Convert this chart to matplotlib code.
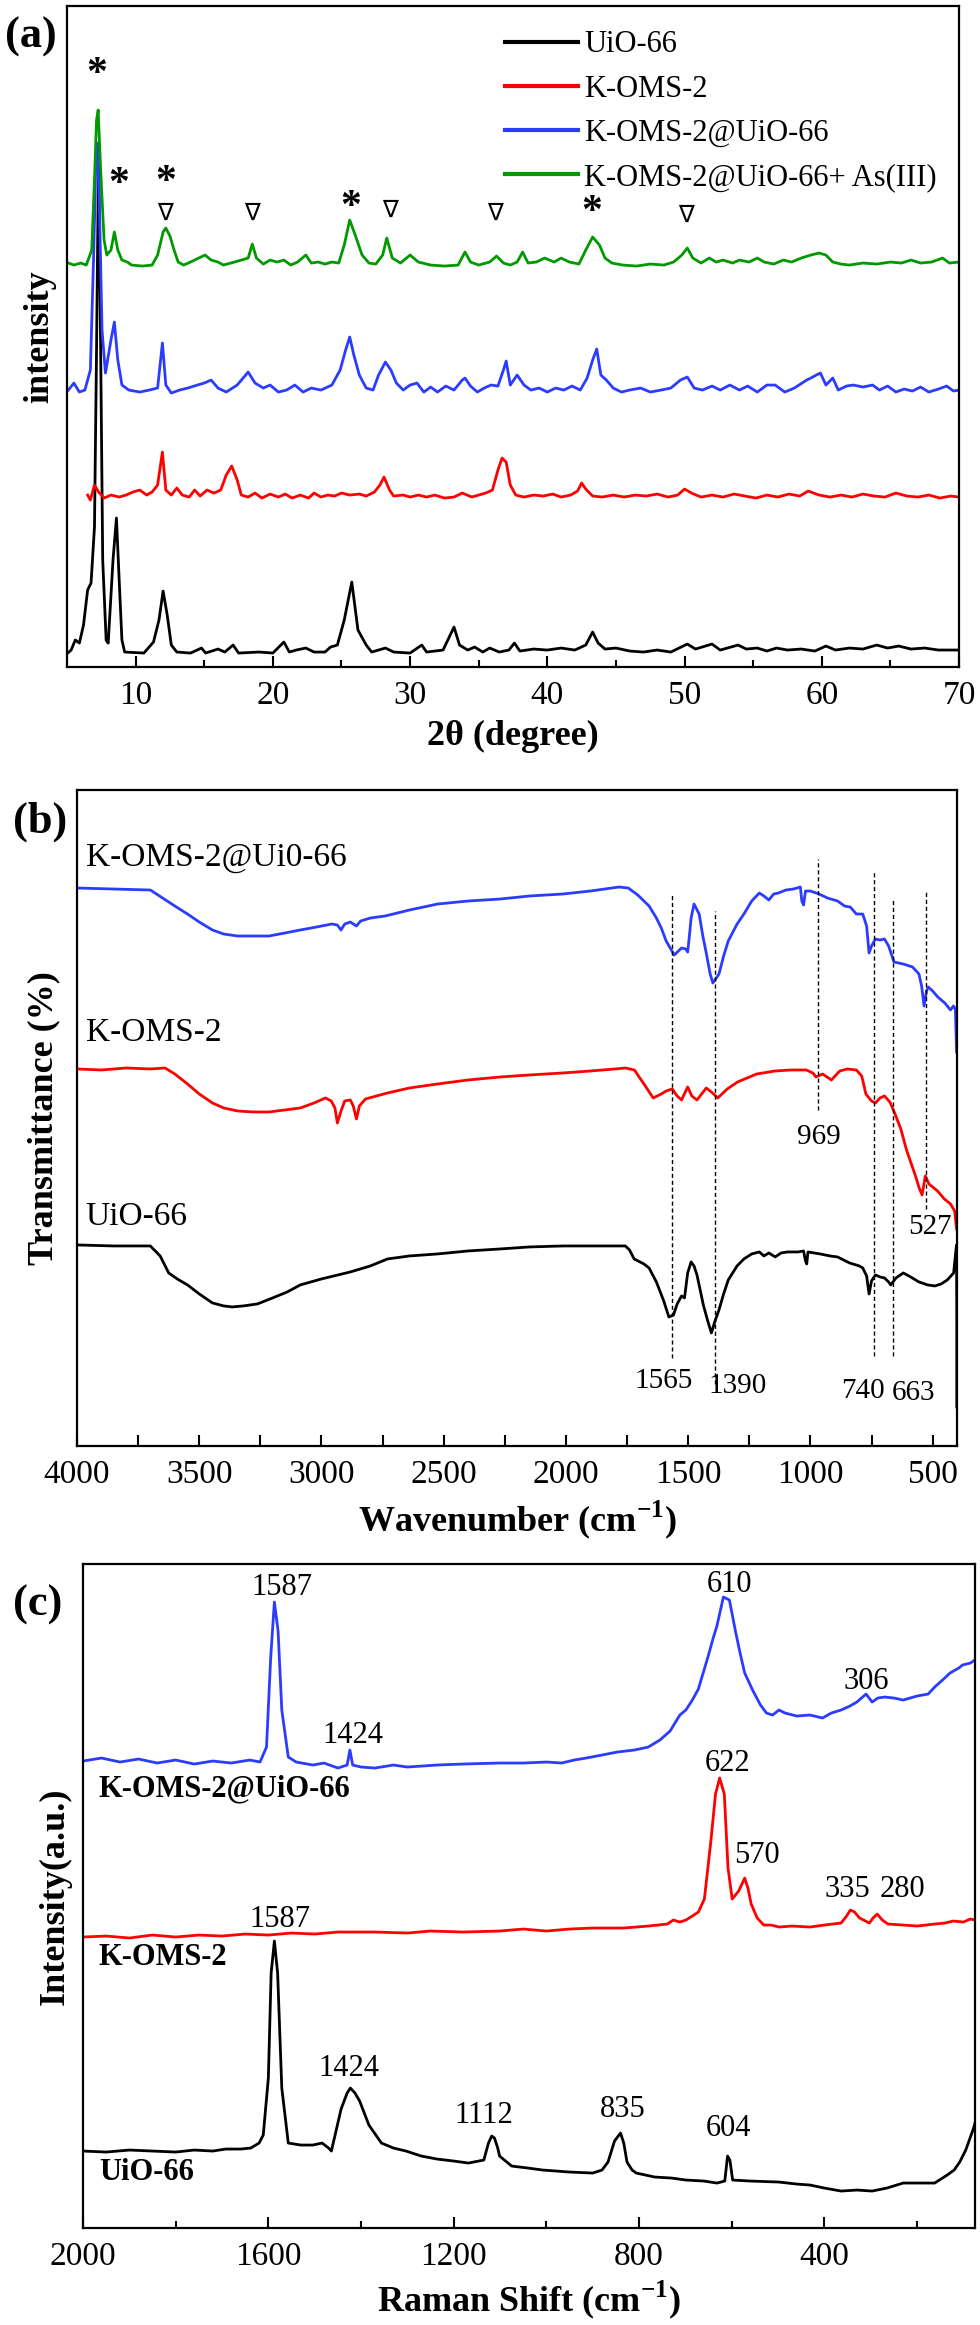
import matplotlib
matplotlib.use("Agg")
import matplotlib.pyplot as plt
from matplotlib.ticker import MultipleLocator

plt.rcParams['font.family'] = ['Liberation Serif', 'DejaVu Sans']
plt.rcParams['mathtext.fontset'] = 'custom'
plt.rcParams['mathtext.rm'] = 'Liberation Serif'
plt.rcParams['mathtext.bf'] = 'Liberation Serif:bold'

# ---------------- (a) XRD ----------------
xrd_green_x = [5.1, 5.5, 6.0, 6.4, 6.8, 7.0, 7.15, 7.27, 7.45, 7.7, 7.9, 8.2, 8.45, 8.7, 9.0, 9.4, 9.7,
               10.5, 11.2, 11.6, 12.0, 12.2, 12.5, 12.8, 13.1, 13.5, 14.0, 14.6, 15.06, 15.5, 16.0, 16.4,
               17.2, 17.7, 18.2, 18.5, 18.8, 19.3, 19.8, 20.3, 20.8, 21.3, 21.8, 22.4, 22.8, 23.3, 23.8,
               24.3, 24.8, 25.2, 25.6, 26.0, 26.5, 27.0, 27.5, 28.0, 28.3, 28.7, 29.3, 30.0, 30.6, 31.5,
               32.5, 33.5, 34.0, 34.4, 35.0, 35.8, 36.3, 36.8, 37.3, 37.8, 38.2, 38.6, 39.2, 39.8, 40.5,
               41.0, 41.6, 42.3, 42.8, 43.3, 43.8, 44.2, 44.7, 45.5, 46.5, 47.5, 48.5, 49.2, 49.8, 50.2,
               50.6, 51.2, 51.8, 52.3, 52.8, 53.5, 54.0, 54.7, 55.3, 55.8, 56.5, 57.2, 57.8, 58.5, 59.2,
               59.8, 60.3, 60.8, 61.4, 62.0, 63.0, 64.0, 65.0, 65.8, 66.5, 67.2, 68.0, 68.8, 69.3, 70.0]
xrd_green_y = [404, 402, 404, 402, 417, 487, 547, 557, 497, 427, 412, 417, 435, 417, 407, 405, 402,
               401, 402, 412, 435, 439, 431, 417, 405, 402, 405, 409, 412, 407, 405, 402,
               405, 407, 409, 423, 409, 403, 407, 405, 407, 402, 405, 412, 404, 405, 403,
               405, 404, 422, 447, 432, 412, 404, 403, 412, 429, 409, 404, 412, 405, 402,
               401, 402, 415, 405, 402, 405, 411, 404, 402, 405, 415, 404, 405, 409, 405,
               409, 405, 403, 417, 430, 422, 409, 404, 402, 401, 403, 402, 405, 412, 419,
               409, 404, 409, 405, 407, 404, 407, 405, 409, 405, 403, 407, 405, 409, 412,
               414, 412, 405, 403, 402, 404, 403, 405, 404, 407, 404, 405, 409, 404, 405]

xrd_blue_x = [5.1, 5.5, 5.9, 6.3, 6.7, 6.95, 7.1, 7.2, 7.35, 7.55, 7.8, 8.2, 8.45, 8.7, 9.0, 9.5, 10.3,
              11.0, 11.6, 11.95, 12.2, 12.6, 13.2, 13.8, 14.5, 15.0, 15.5, 16.0, 16.6, 17.4, 18.2, 18.7,
              19.3, 19.8, 20.4, 21.0, 21.6, 22.2, 22.8, 23.5, 24.3, 24.9, 25.3, 25.6, 25.9, 26.3, 26.8,
              27.3, 27.7, 28.2, 28.6, 29.0, 29.5, 30.0, 30.5, 31.0, 31.5, 32.0, 32.6, 33.2, 33.8, 34.0,
              34.4, 34.9, 35.4, 35.9, 36.4, 36.8, 37.0, 37.3, 37.8, 38.3, 38.8, 39.4, 40.0, 40.6, 41.2,
              41.8, 42.4, 42.9, 43.3, 43.6, 43.9, 44.3, 44.8, 45.4, 46.0, 46.8, 47.5, 48.3, 49.0, 49.7,
              50.2, 50.7, 51.3, 52.0, 52.6, 53.3, 54.0, 54.6, 55.3, 56.0, 56.6, 57.3, 58.0, 58.9, 59.2,
              59.6, 59.9, 60.3, 60.8, 61.2, 61.8, 62.3, 63.0, 63.7, 64.2, 64.8, 65.4, 66.0, 66.6, 67.2,
              67.8, 68.5, 69.1, 69.6, 70.0]
xrd_blue_y = [277, 284, 275, 277, 297, 417, 507, 524, 467, 337, 294, 327, 345, 307, 282, 277, 275,
              277, 279, 324, 282, 274, 277, 279, 282, 284, 287, 279, 275, 282, 295, 284,
              279, 282, 275, 277, 282, 275, 279, 277, 282, 297, 317, 330, 312, 292, 279,
              277, 292, 305, 297, 284, 277, 282, 284, 275, 280, 275, 281, 277, 287, 289,
              281, 275, 279, 282, 281, 297, 306, 282, 292, 282, 277, 279, 275, 279, 277,
              281, 277, 289, 307, 318, 292, 287, 279, 275, 277, 279, 275, 277, 279, 287,
              290, 279, 277, 281, 277, 282, 277, 281, 275, 282, 282, 275, 279, 287, 289,
              292, 294, 282, 289, 277, 281, 282, 280, 282, 277, 281, 275, 278, 276, 280,
              275, 278, 281, 276, 277]

xrd_red_x = [6.5, 6.7, 7.0, 7.3, 7.7, 8.2, 8.8, 9.3, 9.8, 10.3, 10.8, 11.2, 11.6, 11.95, 12.2, 12.6,
             13.0, 13.4, 13.9, 14.3, 14.7, 15.2, 15.7, 16.2, 16.6, 17.0, 17.4, 17.7, 18.2, 18.7, 19.2,
             19.8, 20.4, 20.9, 21.4, 22.0, 22.6, 23.0, 23.5, 24.0, 24.5, 25.0, 25.6, 26.3, 26.8, 27.4,
             27.8, 28.1, 28.5, 28.8, 29.5, 30.0, 30.6, 31.2, 31.8, 32.5, 33.2, 33.8, 34.5, 35.0, 35.5,
             36.0, 36.4, 36.7, 37.0, 37.3, 37.7, 38.3, 39.0, 39.7, 40.4, 41.0, 41.7, 42.2, 42.5, 42.8,
             43.3, 44.0, 44.8, 45.6, 46.4, 47.2, 48.0, 48.8, 49.5, 50.0, 50.5, 51.2, 52.0, 52.8, 53.6,
             54.4, 55.2, 56.0, 56.8, 57.6, 58.4, 59.0, 59.8, 60.6, 61.4, 62.2, 63.0, 63.8, 64.6, 65.4,
             66.2, 67.0, 67.8, 68.6, 69.4, 70.0]
xrd_red_y = [172, 167, 182, 175, 169, 172, 170, 172, 175, 177, 172, 175, 182, 215, 177, 172,
             179, 172, 170, 177, 171, 177, 174, 177, 192, 201, 187, 172, 170, 174, 169,
             173, 170, 173, 169, 172, 169, 174, 170, 172, 171, 174, 172, 173, 171, 175,
             182, 190, 177, 171, 172, 170, 172, 170, 172, 169, 170, 174, 170, 172, 174,
             177, 197, 209, 205, 182, 172, 170, 172, 171, 173, 170, 172, 176, 184, 178,
             171, 170, 172, 170, 172, 171, 173, 170, 172, 178, 174, 170, 172, 170, 173,
             171, 169, 172, 170, 173, 171, 176, 172, 170, 172, 170, 173, 171, 170, 174,
             171, 170, 172, 169, 171, 170]

xrd_black_x = [5.05, 5.3, 5.6, 5.9, 6.2, 6.5, 6.75, 7.0, 7.15, 7.3, 7.45, 7.6, 7.85, 8.0, 8.35, 8.6,
               8.8, 9.0, 9.2, 10.6, 11.3, 11.7, 12.0, 12.3, 12.6, 13.0, 14.0, 14.8, 15.1, 16.0, 16.5,
               17.1, 17.5, 19.0, 20.0, 20.8, 21.2, 21.7, 22.4, 23.0, 23.8, 24.2, 24.7, 25.2, 25.75,
               26.2, 26.8, 27.2, 28.2, 28.8, 30.0, 30.85, 31.2, 32.4, 33.2, 33.6, 34.2, 34.7, 35.3,
               35.8, 36.5, 37.2, 37.6, 38.0, 39.0, 40.0, 41.0, 42.0, 42.8, 43.3, 43.7, 44.2, 45.0,
               46.0, 47.0, 48.0, 49.0, 50.2, 50.8, 52.0, 52.6, 53.9, 54.5, 55.3, 56.0, 56.7, 57.5,
               58.5, 59.5, 60.3, 61.0, 62.0, 63.0, 64.0, 64.8, 65.6, 66.5, 67.5, 68.5, 69.9]
xrd_black_y = [14, 17, 27, 24, 42, 77, 84, 140, 317, 517, 317, 107, 27, 24, 107, 149,
               87, 27, 15, 14, 25, 47, 76, 52, 22, 15, 14, 19, 14, 18, 15,
               22, 14, 15, 14, 25, 15, 17, 19, 15, 15, 20, 22, 47, 85,
               37, 22, 15, 19, 15, 14, 22, 15, 17, 40, 22, 17, 20, 15,
               19, 15, 17, 24, 16, 18, 17, 19, 17, 22, 35, 24, 18, 19,
               16, 15, 17, 15, 23, 18, 23, 17, 22, 18, 19, 16, 19, 17,
               18, 16, 21, 17, 19, 18, 22, 19, 21, 18, 19, 17, 17]

xrd_labels = ["UiO-66", "K-OMS-2", "K-OMS-2@UiO-66", "K-OMS-2@UiO-66+ As(III)"]
star_pos = [(7.15, 592), (8.75, 482), (12.2, 484), (25.7, 459), (43.2, 454)]
tri_pos = [(12.1, 454), (18.5, 454), (28.5, 457), (36.2, 454), (50.1, 452)]

# ---------------- (b) FTIR ----------------
ir_blue = [(4000, 558), (3850, 557), (3700, 556), (3650, 548), (3600, 540), (3548, 532), (3500, 524),
           (3446, 516), (3400, 512), (3343, 510), (3280, 510), (3215, 510), (3150, 513), (3087, 516),
           (3020, 519), (2958, 522), (2935, 521), (2920, 516), (2905, 522), (2882, 524), (2857, 520),
           (2840, 525), (2800, 528), (2740, 530), (2640, 536), (2525, 542), (2400, 545), (2269, 547),
           (2150, 550), (2013, 552), (1900, 555), (1783, 559), (1745, 558), (1706, 551), (1660, 540),
           (1630, 528), (1610, 518), (1590, 505), (1557, 491), (1527, 498), (1510, 497), (1502, 494),
           (1495, 510), (1488, 528), (1476, 542), (1455, 532), (1440, 510), (1426, 493), (1410, 472),
           (1399, 463), (1385, 468), (1374, 472), (1355, 490), (1336, 505), (1300, 522), (1272, 532),
           (1240, 545), (1209, 553), (1190, 550), (1170, 546), (1150, 552), (1131, 553), (1100, 556),
           (1070, 557), (1041, 559), (1035, 545), (1028, 541), (1020, 555), (1000, 555), (965, 552),
           (930, 548), (889, 545), (860, 540), (837, 539), (812, 532), (786, 532), (770, 520),
           (760, 493), (750, 500), (734, 507), (715, 506), (697, 507), (680, 500), (658, 484),
           (620, 482), (582, 479), (556, 472), (545, 460), (535, 440), (525, 455), (518, 459),
           (500, 455), (479, 449), (450, 443), (427, 436), (415, 440), (407, 437), (402, 394)]
ir_red = [(4000, 377), (3900, 376), (3800, 378), (3700, 377), (3640, 378), (3600, 372), (3548, 362),
          (3500, 352), (3446, 343), (3400, 338), (3343, 335), (3280, 334), (3215, 334), (3150, 336),
          (3087, 338), (3030, 343), (2984, 348), (2960, 345), (2945, 338), (2935, 323), (2920, 335),
          (2905, 345), (2882, 346), (2870, 340), (2857, 327), (2845, 340), (2820, 347), (2730, 353),
          (2640, 358), (2525, 362), (2400, 366), (2269, 369), (2150, 371), (2013, 373), (1900, 375),
          (1800, 377), (1757, 378), (1720, 376), (1681, 362), (1643, 348), (1610, 352), (1590, 355),
          (1565, 357), (1545, 350), (1527, 346), (1502, 359), (1485, 350), (1464, 346), (1445, 352),
          (1426, 358), (1400, 353), (1379, 348), (1340, 357), (1298, 364), (1220, 372), (1144, 375),
          (1080, 376), (1017, 376), (990, 373), (977, 369), (950, 372), (914, 366), (880, 375),
          (849, 377), (812, 376), (790, 370), (773, 352), (750, 345), (734, 343), (715, 348),
          (697, 350), (675, 344), (657, 334), (630, 317), (608, 297), (590, 284), (570, 270),
          (555, 258), (543, 251), (530, 270), (515, 262), (505, 260), (480, 255), (452, 247),
          (427, 242), (410, 235), (402, 217)]
ir_black = [(4000, 201), (3850, 200), (3700, 200), (3660, 190), (3625, 173), (3590, 167), (3548, 161),
            (3500, 152), (3446, 143), (3400, 140), (3365, 139), (3320, 140), (3262, 142), (3200, 148),
            (3140, 154), (3087, 161), (3000, 167), (2882, 174), (2800, 180), (2730, 187), (2640, 190),
            (2525, 192), (2400, 195), (2269, 197), (2150, 199), (2013, 200), (1900, 200), (1757, 200),
            (1740, 196), (1721, 187), (1681, 182), (1660, 178), (1630, 164), (1600, 145), (1579, 129),
            (1560, 131), (1545, 142), (1527, 150), (1515, 148), (1502, 173), (1488, 184), (1476, 180),
            (1464, 171), (1450, 155), (1438, 141), (1420, 125), (1405, 113), (1390, 125), (1374, 136),
            (1355, 152), (1336, 166), (1300, 180), (1272, 187), (1240, 192), (1209, 194), (1190, 190),
            (1170, 193), (1144, 189), (1120, 193), (1093, 194), (1050, 194), (1028, 195), (1020, 185),
            (1015, 182), (1010, 194), (960, 192), (920, 190), (889, 189), (840, 183), (800, 180),
            (786, 178), (770, 170), (760, 152), (750, 165), (734, 171), (715, 169), (697, 168),
            (680, 164), (671, 161), (650, 168), (620, 173), (590, 169), (556, 164), (520, 161),
            (491, 160), (465, 162), (440, 166), (414, 173), (405, 195), (402, 201), (401, 120),
            (401, 39)]
ir_names = ["K-OMS-2@Ui0-66", "K-OMS-2", "UiO-66"]
ir_name_y = [588, 413, 229]
# dashed marker lines: position, top, bottom, label, label x, label y
ir_marks = [1565, 1390, 969, 740, 663, 527]
ir_mark_top = [553, 535, 587, 574, 548, 555]
ir_mark_bot = [88, 62, 336, 90, 90, 237]
ir_mark_lx = [1600, 1296, 965, 785, 578, 510]
ir_mark_ly = [65, 60, 309, 55, 53, 219]

# ---------------- (c) Raman ----------------
ra_blue = [(2000, 467), (1960, 470), (1920, 466), (1880, 469), (1840, 465), (1800, 468), (1760, 464),
           (1720, 467), (1680, 465), (1640, 468), (1618, 466), (1604, 481), (1595, 570), (1587, 626),
           (1579, 597), (1571, 518), (1557, 471), (1540, 466), (1504, 463), (1480, 465), (1450, 460),
           (1430, 463), (1424, 478), (1418, 463), (1400, 461), (1370, 460), (1330, 463), (1300, 461),
           (1236, 463), (1180, 464), (1101, 465), (1050, 465), (1000, 466), (967, 465), (940, 468),
           (914, 470), (880, 473), (847, 476), (810, 478), (780, 481), (755, 488), (733, 497),
           (712, 513), (699, 518), (685, 528), (672, 539), (652, 570), (640, 590), (632, 602),
           (618, 631), (605, 628), (592, 597), (582, 575), (572, 555), (555, 538), (538, 523),
           (525, 515), (512, 513), (498, 518), (485, 515), (460, 512), (431, 513), (404, 510),
           (385, 515), (364, 518), (345, 522), (330, 526), (310, 534), (297, 526), (285, 530),
           (270, 531), (250, 530), (230, 528), (200, 532), (176, 534), (162, 541), (145, 548),
           (129, 555), (110, 560), (102, 563), (85, 565), (75, 568)]
ra_red = [(2000, 291), (1950, 292), (1900, 290), (1850, 293), (1800, 291), (1750, 293), (1700, 292),
          (1650, 294), (1600, 293), (1550, 295), (1500, 294), (1450, 296), (1370, 296), (1300, 295),
          (1250, 297), (1180, 296), (1101, 297), (1050, 299), (1000, 297), (950, 299), (900, 300),
          (833, 300), (780, 302), (739, 304), (726, 308), (712, 306), (699, 308), (685, 312),
          (672, 316), (659, 329), (645, 387), (635, 434), (626, 450), (616, 434), (608, 360),
          (599, 329), (592, 333), (585, 337), (572, 350), (565, 340), (558, 324), (545, 310),
          (531, 303), (515, 303), (498, 301), (470, 302), (431, 301), (400, 303), (364, 305),
          (352, 312), (344, 318), (335, 316), (324, 310), (303, 305), (295, 310), (286, 314),
          (275, 308), (263, 304), (230, 303), (200, 302), (162, 304), (140, 305), (122, 307),
          (100, 306), (85, 309), (75, 308)]
ra_black = [(2000, 77), (1950, 76), (1900, 78), (1850, 77), (1800, 76), (1760, 78), (1720, 77),
            (1692, 79), (1660, 79), (1638, 80), (1620, 85), (1611, 93), (1600, 150), (1594, 255),
            (1587, 287), (1580, 255), (1571, 140), (1557, 85), (1530, 83), (1504, 83), (1484, 85),
            (1470, 80), (1464, 77), (1455, 95), (1443, 119), (1430, 135), (1423, 140), (1413, 135),
            (1403, 127), (1383, 103), (1356, 85), (1330, 80), (1303, 77), (1270, 72), (1236, 69),
            (1200, 67), (1168, 65), (1135, 68), (1125, 85), (1118, 92), (1112, 90), (1105, 80),
            (1101, 72), (1075, 62), (1040, 60), (1008, 58), (950, 56), (900, 55), (880, 58),
            (867, 66), (853, 87), (840, 95), (833, 85), (826, 66), (815, 58), (806, 55), (766, 51),
            (730, 50), (699, 48), (660, 47), (632, 45), (615, 47), (609, 72), (604, 68), (598, 48),
            (560, 47), (498, 46), (460, 44), (431, 43), (400, 40), (364, 37), (330, 38), (297, 37),
            (265, 40), (230, 45), (200, 45), (162, 45), (135, 53), (120, 58), (108, 66), (95, 78),
            (88, 87), (78, 100), (75, 105)]
ra_names = ["K-OMS-2@UiO-66", "K-OMS-2", "UiO-66"]
ra_name_y = [439, 271, 56]
ra_peaks = ["1587", "1424", "610", "306", "622", "570", "335", "280", "1587", "1424", "1112", "835", "604"]
ra_peak_x = [1571, 1417, 605, 310, 608, 545, 350, 232, 1575, 1427, 1135, 836, 608]
ra_peak_y = [641, 493, 644, 547, 465, 373, 339, 339, 309, 160, 113, 119, 100]

col_black = "#000000"
col_red = "#ff0000"
col_blue = "#2b3cff"
col_green = "#009900"

fig = plt.figure(figsize=(9.8, 23.25), dpi=100)
ax1 = fig.add_axes([0.0684, 0.7131, 0.9102, 0.2843])
ax2 = fig.add_axes([0.0786, 0.3781, 0.8980, 0.2821])
ax3 = fig.add_axes([0.0847, 0.0417, 0.9102, 0.2856])

lw = 2.0
ax1.plot(xrd_black_x, xrd_black_y, color=col_black, lw=lw, label=xrd_labels[0])
ax1.plot(xrd_red_x, xrd_red_y, color=col_red, lw=lw, label=xrd_labels[1])
ax1.plot(xrd_blue_x, xrd_blue_y, color=col_blue, lw=lw, label=xrd_labels[2])
ax1.plot(xrd_green_x, xrd_green_y, color=col_green, lw=lw, label=xrd_labels[3])
for x, y in star_pos:
    ax1.text(x, y, "*", fontsize=30, fontweight="bold", ha="center", va="center")
for x, y in tri_pos:
    ax1.text(x, y, "∇", fontsize=17, ha="center", va="center",
             family=["DejaVu Sans"])
ax1.set_xlim(5, 70)
ax1.set_ylim(0, 661)
ax1.xaxis.set_major_locator(MultipleLocator(10))
ax1.xaxis.set_minor_locator(MultipleLocator(5))
ax1.set_yticks([])
ax1.set_xlabel("2θ (degree)", fontsize=26, fontweight="bold", labelpad=6)
ax1.set_ylabel("intensity", fontsize=26, fontweight="bold", labelpad=8)
leg = ax1.legend(loc="upper left", bbox_to_anchor=(0.46, 1.005), frameon=False, fontsize=22,
                 handlelength=2.4, handletextpad=0.2, labelspacing=0.5)
for h in leg.get_lines():
    h.set_linewidth(3)

ax2.plot([p[0] for p in ir_blue], [p[1] for p in ir_blue], color=col_blue, lw=lw)
ax2.plot([p[0] for p in ir_red], [p[1] for p in ir_red], color=col_red, lw=lw)
ax2.plot([p[0] for p in ir_black], [p[1] for p in ir_black], color=col_black, lw=lw)
for i in range(len(ir_marks)):
    ax2.plot([ir_marks[i], ir_marks[i]], [ir_mark_bot[i], ir_mark_top[i]], color="black",
             lw=1.0, ls=(0, (3, 2)))
    ax2.text(ir_mark_lx[i], ir_mark_ly[i], str(ir_marks[i]), fontsize=21, ha="center", va="center")
for name, y in zip(ir_names, ir_name_y):
    ax2.text(3965, y, name, fontsize=24, ha="left", va="center")
ax2.set_xlim(4000, 400)
ax2.set_ylim(0, 656)
ax2.xaxis.set_major_locator(MultipleLocator(500))
ax2.xaxis.set_minor_locator(MultipleLocator(250))
ax2.set_yticks([])
ax2.set_xlabel(r"Wavenumber (cm$^{\mathbf{-1}}$)", fontsize=26, fontweight="bold", labelpad=6)
ax2.set_ylabel("Transmittance (%)", fontsize=26, fontweight="bold", labelpad=12)

ax3.plot([p[0] for p in ra_blue], [p[1] for p in ra_blue], color=col_blue, lw=lw)
ax3.plot([p[0] for p in ra_red], [p[1] for p in ra_red], color=col_red, lw=lw)
ax3.plot([p[0] for p in ra_black], [p[1] for p in ra_black], color=col_black, lw=lw)
for t, x, y in zip(ra_peaks, ra_peak_x, ra_peak_y):
    ax3.text(x, y, t, fontsize=22, ha="center", va="center")
for name, y in zip(ra_names, ra_name_y):
    ax3.text(1966, y, name, fontsize=22, fontweight="bold", ha="left", va="center")
ax3.set_xlim(2000, 75)
ax3.set_ylim(0, 664)
ax3.xaxis.set_major_locator(MultipleLocator(400))
ax3.xaxis.set_minor_locator(MultipleLocator(200))
ax3.set_yticks([])
ax3.set_xlabel(r"Raman Shift (cm$^{\mathbf{-1}}$)", fontsize=26, fontweight="bold", labelpad=4)
ax3.set_ylabel("Intensity(a.u.)", fontsize=26, fontweight="bold", labelpad=8)

for ax in (ax1, ax2, ax3):
    for s in ax.spines.values():
        s.set_linewidth(1.6)
    ax.tick_params(axis="x", which="major", direction="in", length=8, width=1.5,
                   labelsize=24, pad=10)
    ax.tick_params(axis="x", which="minor", direction="in", length=5, width=1.5)
ax2.tick_params(axis="x", which="minor", length=8)

fig.text(0.032, 0.984, "(a)", fontsize=32, fontweight="bold", ha="center", va="center")
fig.text(0.041, 0.6465, "(b)", fontsize=32, fontweight="bold", ha="center", va="center")
fig.text(0.038, 0.3097, "(c)", fontsize=32, fontweight="bold", ha="center", va="center")

fig.savefig("out.png", dpi=100)
